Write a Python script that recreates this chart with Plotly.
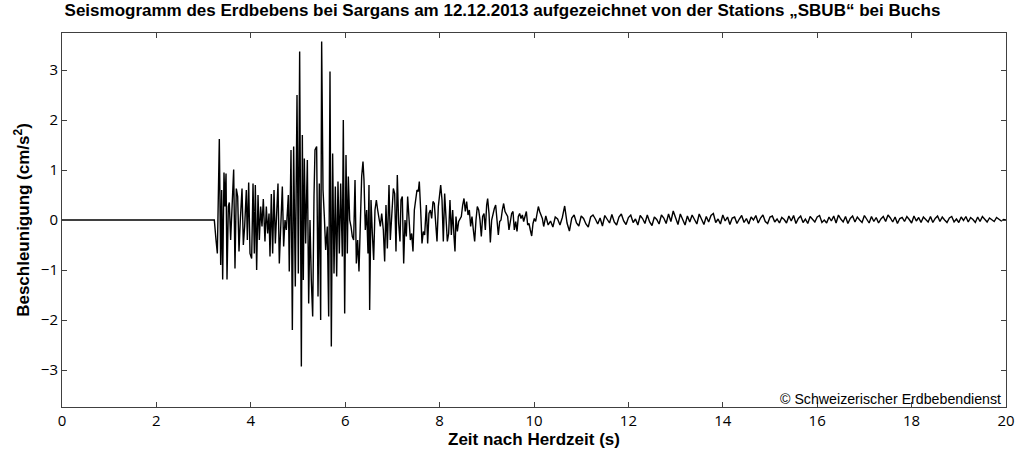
import plotly.graph_objects as go

# Seismogram samples (time in s, acceleration in cm/s^2)
onset_t = [0.0, 3.227, 3.263, 3.291, 3.333, 3.362, 3.383, 3.404, 3.432, 3.453, 3.475,
           3.496, 3.524, 3.545, 3.573, 3.595, 3.637, 3.665, 3.693, 3.722, 3.750, 3.778,
           3.814, 3.842, 3.870, 3.905, 3.927, 3.955, 3.983, 4.018, 4.047, 4.075, 4.096,
           4.124, 4.153, 4.181, 4.209, 4.237, 4.265, 4.300, 4.329, 4.357, 4.386, 4.407,
           4.435, 4.463, 4.492, 4.520, 4.548, 4.576, 4.604, 4.640, 4.668, 4.696, 4.725,
           4.753, 4.795, 4.815]
onset_v = [0.0, 0.0, -0.40, -0.67, 1.62, -0.90, 0.60, -1.19, 0.95, 0.27, 0.93,
           -1.19, 0.27, 0.35, -0.40, 0.20, 1.01, -0.97, 0.63, 0.47, -0.63, 0.0,
           0.63, -0.50, -0.13, 0.60, -0.40, 0.75, -0.67, -0.77, 0.73, -0.67, 0.70,
           -1.00, 0.50, -0.40, 0.27, -0.13, 0.42, -0.43, 0.27, -0.27, 0.13, -0.73,
           0.52, -0.67, 0.60, -0.47, 0.33, 0.73, -0.87, 0.27, 0.67, -0.53, 0.0,
           -0.20, 0.50, -1.03]

strong_t = [4.852, 4.880, 4.908, 4.943, 4.979, 5.007, 5.035, 5.071, 5.092, 5.113, 5.134,
            5.162, 5.198, 5.226, 5.254, 5.282, 5.311, 5.339, 5.360, 5.395, 5.424, 5.452,
            5.480, 5.501, 5.530, 5.558, 5.586, 5.621, 5.650, 5.678, 5.706, 5.734, 5.763,
            5.791, 5.819, 5.847, 5.876, 5.904, 5.939, 5.960, 5.989, 6.017, 6.045, 6.066,
            6.095, 6.123, 6.151, 6.179, 6.208, 6.236, 6.264, 6.292, 6.321, 6.349, 6.377,
            6.398, 6.426, 6.455, 6.483, 6.504, 6.518]
strong_v = [1.40, -2.20, 1.47, -1.33, 2.50, -1.07, 3.37, -2.93, 1.70, -1.20, 1.23,
            -0.47, 1.20, -1.67, 0.0, -1.20, -1.93, 0.47, 1.40, 1.47, -1.53, 0.73,
            -2.00, 3.57, 0.60, 0.07, -0.60, -0.13, -1.93, 2.97, -2.53, 1.33, -1.07,
            0.67, -1.13, 0.77, -0.67, 0.73, -0.73, 2.00, -1.87, 1.30, -0.67, 0.87,
            0.0, -0.13, -0.33, -0.40, 0.80, -0.87, -0.40, -1.03, -0.07, 0.87, 1.17,
            0.80, -0.20, 0.20, -0.67, 0.70, -1.80]

coda_t = [6.547, 6.575, 6.603, 6.631, 6.660, 6.688, 6.716, 6.744, 6.773, 6.808, 6.836,
          6.864, 6.893, 6.928, 6.956, 6.984, 7.020, 7.048, 7.076, 7.104, 7.133, 7.161,
          7.182, 7.210, 7.239, 7.267, 7.295, 7.323, 7.352, 7.380, 7.408, 7.436, 7.465,
          7.493, 7.521, 7.549, 7.570, 7.599, 7.627, 7.655, 7.683, 7.719, 7.747, 7.775,
          7.804, 7.832, 7.860, 7.888, 7.917, 7.945, 7.973, 8.001, 8.023, 8.051, 8.079,
          8.107, 8.136, 8.164, 8.192, 8.220, 8.249, 8.277, 8.305,
          8.326, 8.347, 8.376, 8.404, 8.432, 8.460, 8.489, 8.517, 8.545, 8.573, 8.602,
          8.630, 8.658, 8.686, 8.715, 8.743, 8.771, 8.799, 8.828, 8.856, 8.884, 8.912,
          8.941, 8.969, 8.997, 9.018, 9.047, 9.075, 9.103, 9.131, 9.160, 9.188, 9.216,
          9.244, 9.273, 9.301, 9.329, 9.357, 9.386, 9.414, 9.442, 9.470, 9.499, 9.527,
          9.555, 9.583, 9.612, 9.640, 9.668, 9.696, 9.725, 9.753, 9.781, 9.809, 9.838,
          9.866, 9.894, 9.922, 9.951, 9.979, 10.007, 10.035, 10.064, 10.092, 10.120,
          10.148, 10.177, 10.205]
coda_v = [0.40, -0.27, -0.80, 0.20, 0.40, 0.20, 0.07, -0.13, 0.13, -0.20, -0.83,
          0.30, -0.57, 0.70, -0.40, 0.07, 0.63, 0.53, -0.63, 0.90, -0.07, -0.43,
          0.40, 0.47, -0.87, 0.0, -0.33, 0.47, -0.13, -0.40, -0.27, -0.63, 0.20,
          0.47, 0.60, 0.57, 0.77, 0.20, -0.47, -0.23, -0.30, 0.30, -0.47, 0.13,
          0.20, 0.03, 0.37, 0.33, -0.13, -0.43, 0.27, 0.53, 0.70, 0.40, -0.43,
          0.53, -0.13, -0.43, -0.27, 0.40, -0.30, 0.20, -0.33,
          -0.63, 0.07, -0.23, -0.03, 0.03, 0.07, 0.30, 0.43, 0.17, 0.37, 0.10,
          0.20, -0.13, 0.07, -0.20, -0.43, 0.0, 0.27, 0.20, 0.0, -0.33, 0.07,
          0.13, -0.20, 0.30, 0.43, 0.13, -0.45, 0.0, 0.13, 0.23, 0.30, 0.03,
          -0.30, -0.03, 0.0, 0.20, 0.33, 0.17, 0.13, 0.07, -0.20, 0.03, 0.13,
          0.17, -0.20, -0.03, -0.23, 0.07, 0.13, 0.03, 0.10, -0.03, 0.10, 0.17,
          -0.10, -0.07, -0.20, -0.32, -0.07, 0.03, -0.03, 0.13, 0.27, 0.17,
          0.10, 0.03, -0.13]

# tail sampled every 0.05 s from 10.25 s to 20 s
tail_start = 10.25
tail_dt = 0.05
tail_v = [
    0.08, -0.10, -0.02, -0.14, 0.06, 0.02, -0.10, 0.05, 0.28, -0.06, -0.22, 0.04, 0.10, -0.06, -0.12, 0.08, 0.03, -0.08, -0.14, 0.06,
    0.10, 0.02, -0.08, 0.04, -0.12, 0.09, 0.01, -0.06, 0.11, -0.04, -0.10, 0.06, 0.12, -0.02, -0.09, 0.05, 0.10, -0.05, 0.02, -0.10,
    0.09, 0.03, -0.07, 0.10, -0.04, -0.11, 0.06, 0.01, -0.08, 0.10, 0.04, -0.07, 0.12, -0.03, 0.18, 0.06, -0.09, 0.12, 0.02, -0.10,
    0.08, -0.04, 0.10, 0.01, -0.08, 0.12, 0.03, -0.09, 0.07, -0.04, 0.09, 0.13, -0.05, 0.02, -0.08, 0.10, -0.02, 0.06, -0.09, 0.04,
    0.06, -0.07, 0.02, 0.09, -0.05, 0.03, -0.08, 0.06, 0.00, 0.09, -0.06, 0.04, 0.10, -0.03, -0.07, 0.06, 0.08, -0.04, 0.02, -0.06,
    0.05, 0.01, -0.06, 0.08, -0.02, 0.09, -0.07, 0.03, 0.08, -0.05, 0.02, -0.07, 0.07, 0.01, -0.04, 0.06, 0.09, -0.05, 0.00, -0.06,
    0.06, -0.02, 0.08, -0.06, 0.10, 0.02, -0.04, 0.07, -0.07, 0.03, 0.08, -0.04, 0.06, 0.00, -0.05, 0.09, 0.02, -0.06, 0.07, -0.03,
    0.05, -0.06, 0.02, 0.07, -0.03, 0.10, 0.04, -0.04, 0.06, -0.07, 0.03, 0.05, -0.03, 0.07, 0.01, -0.06, 0.08, -0.02, 0.05, -0.05,
    0.06, 0.01, -0.04, 0.07, -0.05, 0.03, 0.08, -0.03, 0.06, 0.00, -0.05, 0.04, 0.07, -0.04, 0.02, -0.05, 0.06, -0.01, 0.07, -0.04,
    0.05, 0.01, -0.05, 0.06, -0.03, 0.07, 0.02, -0.04, 0.04, 0.00, -0.03, 0.05, 0.01, -0.02, 0.01, 0.0,
]
tail_t = [round(tail_start + tail_dt * i, 3) for i in range(len(tail_v))]

x_ticks = [0, 2, 4, 6, 8, 10, 12, 14, 16, 18, 20]
y_ticks = [-3, -2, -1, 0, 1, 2, 3]

t = onset_t + strong_t + coda_t + tail_t
v = onset_v + strong_v + coda_v + tail_v

fig = go.Figure()
fig.add_trace(go.Scatter(x=t, y=v, mode="lines",
                         line=dict(color="black", width=1.4),
                         showlegend=False))

axis_common = dict(
    showgrid=False, zeroline=False, showline=True, linecolor="#404040",
    linewidth=1, mirror="ticks", ticks="inside", ticklen=5, automargin=False,
    tickcolor="#404040", tickfont=dict(family="Open Sans", size=15, color="black"),
)

fig.update_xaxes(range=[0, 20], tickvals=x_ticks, **axis_common,
                 title=dict(text="<b>Zeit nach Herdzeit (s)</b>", standoff=0,
                            font=dict(family="Liberation Sans", size=17, color="black")))
fig.update_yaxes(range=[-3.74, 3.74], tickvals=y_ticks, **axis_common,
                 title=dict(text="<b>Beschleunigung (cm/s<sup>2</sup>)</b>", standoff=6,
                            font=dict(family="Liberation Sans", size=17, color="black")))

fig.add_annotation(text="© Schweizerischer Erdbebendienst", xref="paper", yref="paper",
                   x=0.997, y=-0.006, xanchor="right", yanchor="bottom", showarrow=False,
                   font=dict(family="Liberation Sans", size=14.2, color="black"))

fig.update_layout(
    width=1024, height=458,
    margin=dict(l=62, r=18, t=33, b=51),
    paper_bgcolor="white", plot_bgcolor="white",
    title=dict(text="<b>Seismogramm des Erdbebens bei Sargans am 12.12.2013 aufgezeichnet von der Stations „SBUB“ bei Buchs</b>",
               x=0.4907, xref="container", xanchor="center",
               y=0.977, yref="container", yanchor="middle",
               font=dict(family="Liberation Sans", size=17, color="black")),
)

# page body has a default margin; drop it so the figure sits at the window origin
fig.write_html("out.html", config={"displayModeBar": False},
               post_script="document.body.style.margin='0';")
